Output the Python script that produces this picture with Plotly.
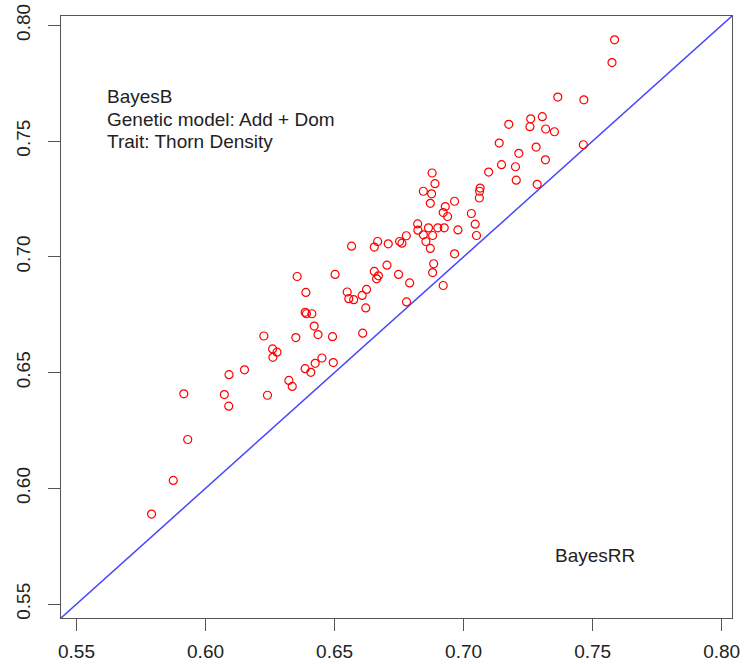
import plotly.graph_objects as go

# BayesRR (x) vs BayesB (y) accuracies
bayes_rr = [
    0.5791, 0.5875, 0.5931, 0.5916, 0.6073, 0.6090, 0.6091, 0.6151, 0.6240, 0.6323,
    0.6336, 0.6386, 0.6408, 0.6425, 0.6451, 0.6495, 0.6260, 0.6277, 0.6261, 0.6566,
    0.6355, 0.6502, 0.6389, 0.6549, 0.6555, 0.6574, 0.6386, 0.6391, 0.6412, 0.6421,
    0.6436, 0.6226, 0.6350, 0.6492, 0.6607, 0.6624, 0.6621, 0.6654, 0.6667, 0.6708,
    0.6752, 0.6761, 0.6778, 0.6654, 0.6670, 0.6663, 0.6703, 0.6748, 0.6791, 0.6779,
    0.6822, 0.6823, 0.6844, 0.6864, 0.6880, 0.6854, 0.6871, 0.6900, 0.6925, 0.6978,
    0.6884, 0.6880, 0.6921, 0.6965, 0.6878, 0.6889, 0.6844, 0.6876, 0.6871, 0.6929,
    0.6921, 0.6938, 0.6965, 0.7030, 0.7045, 0.7050, 0.7064, 0.7062, 0.7061, 0.7097,
    0.7147, 0.7201, 0.7204, 0.7585, 0.7575, 0.7365, 0.7466, 0.7260, 0.7257, 0.7305,
    0.7318, 0.7352, 0.7175, 0.7138, 0.7281, 0.7464, 0.7214, 0.7317, 0.7285, 0.6609,
]
bayes_b = [
    0.5889, 0.6034, 0.6211, 0.6408, 0.6405, 0.6355, 0.6491, 0.6512, 0.6402, 0.6466,
    0.6440, 0.6517, 0.6501, 0.6540, 0.6563, 0.6543, 0.6602, 0.6588, 0.6566, 0.7046,
    0.6915, 0.6924, 0.6846, 0.6848, 0.6819, 0.6815, 0.6760, 0.6754, 0.6754, 0.6701,
    0.6664, 0.6658, 0.6651, 0.6655, 0.6833, 0.6859, 0.6779, 0.7042, 0.7066, 0.7056,
    0.7066, 0.7059, 0.7091, 0.6937, 0.6918, 0.6905, 0.6964, 0.6924, 0.6887, 0.6805,
    0.7142, 0.7115, 0.7095, 0.7125, 0.7092, 0.7066, 0.7036, 0.7125, 0.7125, 0.7116,
    0.6970, 0.6932, 0.6876, 0.7013, 0.7362, 0.7316, 0.7283, 0.7272, 0.7231, 0.7217,
    0.7191, 0.7174, 0.7240, 0.7187, 0.7141, 0.7092, 0.7297, 0.7283, 0.7254, 0.7366,
    0.7398, 0.7389, 0.7331, 0.7937, 0.7839, 0.7690, 0.7678, 0.7596, 0.7562, 0.7605,
    0.7552, 0.7540, 0.7572, 0.7491, 0.7474, 0.7484, 0.7447, 0.7419, 0.7313, 0.6670,
]

axis_lim = [0.544, 0.804]
tick_vals = [0.55, 0.60, 0.65, 0.70, 0.75, 0.80]
tick_text = ["0.55", "0.60", "0.65", "0.70", "0.75", "0.80"]

FONT = "Liberation Sans, Arial, sans-serif"

fig = go.Figure()

# identity line y = x across the whole (square-range) plot
fig.add_trace(go.Scatter(
    x=axis_lim, y=axis_lim, mode="lines",
    line=dict(color="rgb(70,70,255)", width=1.5),
    hoverinfo="skip", showlegend=False,
))

fig.add_trace(go.Scatter(
    x=bayes_rr, y=bayes_b, mode="markers",
    marker=dict(symbol="circle-open", size=8, color="red", line=dict(width=1.2, color="red")),
    showlegend=False,
))

axis_common = dict(
    range=axis_lim, tickvals=tick_vals, ticktext=tick_text,
    showgrid=False, zeroline=False, automargin=False,
    showline=True, linecolor="#555555", linewidth=1.2, mirror=True,
    ticks="outside", ticklen=12, tickwidth=1.2, tickcolor="#555555",
    tickfont=dict(family=FONT, size=19, color="#222222"),
)

fig.update_xaxes(**axis_common, ticklabelstandoff=4)
fig.update_yaxes(**axis_common, tickangle=-90, ticklabelstandoff=10)

ann_font = dict(family=FONT, size=19, color="#222222")
annotations = [
    ("BayesB", 0.5612, 0.7693),
    ("Genetic model: Add + Dom", 0.5610, 0.7594),
    ("Trait: Thorn Density", 0.5610, 0.7499),
    ("BayesRR", 0.7345, 0.5710),
]
for text, ax_x, ax_y in annotations:
    fig.add_annotation(x=ax_x, y=ax_y, xref="x", yref="y", text=text,
                       showarrow=False, xanchor="left", yanchor="middle", font=ann_font)

fig.update_layout(
    width=752, height=664,
    margin=dict(l=61, r=20, t=16, b=46, autoexpand=False),
    paper_bgcolor="white", plot_bgcolor="white",
    showlegend=False,
)

fig.write_html("out.html")
